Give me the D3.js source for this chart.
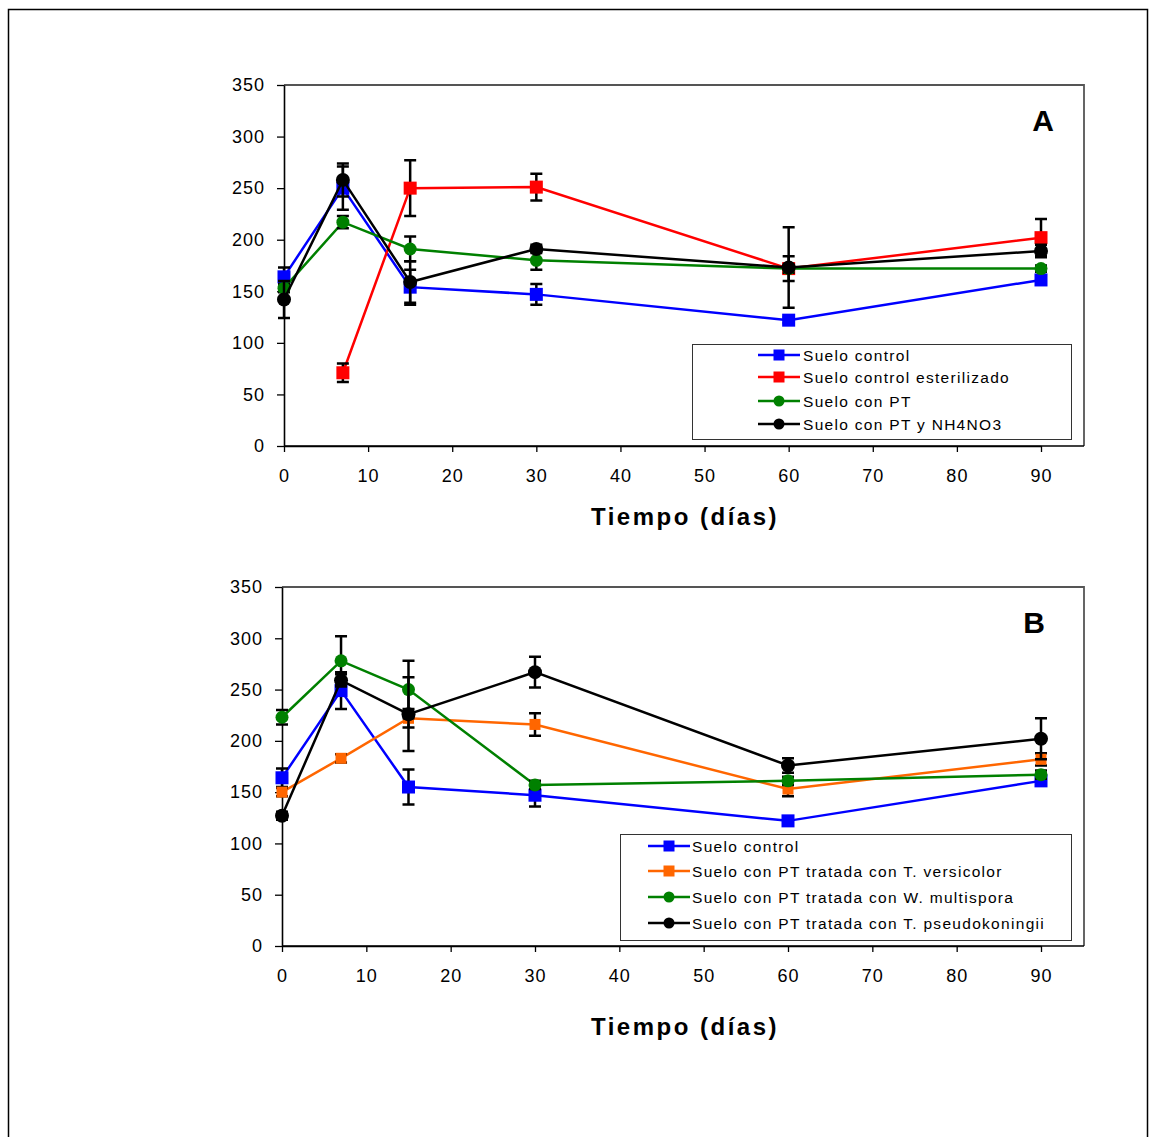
<!DOCTYPE html>
<html>
<head>
<meta charset="utf-8">
<script src="https://cdn.jsdelivr.net/npm/d3@7"></script>
<style>
  body { margin: 0; background: #fff; }
  svg { display: block; font-family: "Liberation Sans", Arial, sans-serif; }
</style>
</head>
<body>
<svg id="chart"></svg>
<script>
// sampling days (x axis)
const days = [0, 7, 15, 30, 60, 90];
const yTicks = [0, 50, 100, 150, 200, 250, 300, 350];
const xTicks = [0, 10, 20, 30, 40, 50, 60, 70, 80, 90];

// panel A
const aControl = [164, 250, 154, 147, 122, 161];
const aControlErr = [9, 21, 17, 10, 3, 4];
const aEsteril = [null, 71, 250, 251, 172, 202];
const aEsterilErr = [0, 9, 27, 13, 12, 18];
const aPT = [153, 217, 191, 180, 172, 172];
const aPTErr = [4, 6, 12, 9, 4, 3];
const aPTN = [142, 258, 159, 191, 173, 189];
const aPTNErr = [18, 16, 20, 4, 39, 6];

// panel B
const bControl = [164, 249, 155, 147, 122, 161];
const bControlErr = [9, 18, 17, 11, 3, 4];
const bVersicolor = [150, 183, 222, 216, 153, 182];
const bVersicolorErr = [4, 4, 9, 11, 7, 6];
const bMultispora = [223, 278, 250, 157, 161, 167];
const bMultisporaErr = [7, 24, 28, 4, 4, 4];
const bPseudo = [127, 259, 226, 267, 176, 202];
const bPseudoErr = [4, 6, 36, 15, 7, 20];

const labelsA = ["Suelo control", "Suelo control esterilizado", "Suelo con PT", "Suelo con PT y NH4NO3"];
const labelsB = ["Suelo control", "Suelo con PT tratada con T. versicolor",
  "Suelo con PT tratada con W. multispora", "Suelo con PT tratada con T. pseudokoningii"];

const W = 1149, H = 1137;
const svg = d3.select("#chart").attr("width", W).attr("height", H);

// outer frame
svg.append("rect")
  .attr("x", 8.5).attr("y", 9.5)
  .attr("width", 1139).attr("height", 1140)
  .attr("fill", "none").attr("stroke", "#000").attr("stroke-width", 1.5);

const panels = [
  {
    letter: "A", letterX: 1043, left: 284, top: 85, bottom: 446, right: 1084, titleY: 517,
    legend: { x: 692, y: 344, w: 379, h: 95, line0: 758, text: 803, rows: [355, 377, 401, 424] },
    series: [
      { label: labelsA[0], vals: aControl, err: aControlErr, color: "#0000ff", shape: "square", size: 13 },
      { label: labelsA[1], vals: aEsteril, err: aEsterilErr, color: "#ff0000", shape: "square", size: 13 },
      { label: labelsA[2], vals: aPT, err: aPTErr, color: "#008000", shape: "circle", size: 13 },
      { label: labelsA[3], vals: aPTN, err: aPTNErr, color: "#000000", shape: "circle", size: 14 }
    ]
  },
  {
    letter: "B", letterX: 1034, left: 282, top: 587, bottom: 946, right: 1084, titleY: 1027,
    legend: { x: 620, y: 834, w: 451, h: 106, line0: 648, text: 692, rows: [846, 871, 897, 923] },
    series: [
      { label: labelsB[0], vals: bControl, err: bControlErr, color: "#0000ff", shape: "square", size: 13 },
      { label: labelsB[1], vals: bVersicolor, err: bVersicolorErr, color: "#ff6600", shape: "square", size: 11 },
      { label: labelsB[2], vals: bMultispora, err: bMultisporaErr, color: "#008000", shape: "circle", size: 13 },
      { label: labelsB[3], vals: bPseudo, err: bPseudoErr, color: "#000000", shape: "circle", size: 14 }
    ]
  }
];

function drawMarker(g, shape, size, color, cx, cy) {
  if (shape === "square") {
    g.append("rect")
      .attr("x", cx - size / 2).attr("y", cy - size / 2)
      .attr("width", size).attr("height", size)
      .attr("fill", color);
  } else {
    g.append("circle")
      .attr("cx", cx).attr("cy", cy).attr("r", size / 2)
      .attr("fill", color);
  }
}

panels.forEach(p => {
  // x=90 sits at 1041, the box runs a bit further
  const x = d3.scaleLinear().domain([0, 90]).range([p.left, 1041]);
  const y = d3.scaleLinear().domain([0, 350]).range([p.bottom, p.top]);
  const g = svg.append("g");

  // top/right border of plot area
  g.append("path")
    .attr("d", `M${p.left},${p.top}H${p.right}V${p.bottom}`)
    .attr("fill", "none").attr("stroke", "#555").attr("stroke-width", 1.8);

  const yAxis = g.append("g")
    .attr("transform", `translate(${p.left},0)`)
    .call(d3.axisLeft(y).tickValues(yTicks).tickSize(7).tickPadding(12).tickSizeOuter(0));
  const xAxis = g.append("g")
    .attr("transform", `translate(0,${p.bottom})`)
    .call(d3.axisBottom(x).tickValues(xTicks).tickSize(6).tickPadding(17).tickSizeOuter(0));
  [yAxis, xAxis].forEach(a => {
    a.select(".domain").attr("stroke-width", 1.6);
    a.selectAll(".tick line").attr("stroke-width", 1.3);
    a.selectAll("text")
      .attr("font-size", 18).attr("fill", "#000")
      .style("letter-spacing", "1px")
      .style("font-family", "Liberation Sans, Arial, sans-serif");
  });
  // extend x domain line to the box edge
  g.append("line")
    .attr("x1", p.left).attr("x2", p.right)
    .attr("y1", p.bottom).attr("y2", p.bottom)
    .attr("stroke", "#000").attr("stroke-width", 1.6);

  // series
  p.series.forEach(s => {
    const pts = days.map((d, i) => ({ d, v: s.vals[i], e: s.err[i] })).filter(o => o.v != null);
    const sg = g.append("g");
    sg.append("path")
      .datum(pts)
      .attr("d", d3.line().x(o => x(o.d)).y(o => y(o.v)))
      .attr("fill", "none").attr("stroke", s.color).attr("stroke-width", 2.5);
    pts.forEach(o => {
      const cx = x(o.d), y1 = y(o.v - o.e), y2 = y(o.v + o.e);
      sg.append("path")
        .attr("d", `M${cx},${y1}V${y2}M${cx - 6},${y1}H${cx + 6}M${cx - 6},${y2}H${cx + 6}`)
        .attr("fill", "none").attr("stroke", "#000").attr("stroke-width", 2.5);
    });
    pts.forEach(o => drawMarker(sg, s.shape, s.size, s.color, x(o.d), y(o.v)));
  });

  // panel letter
  g.append("text")
    .attr("x", p.letterX).attr("y", p.top + 46)
    .attr("text-anchor", "middle")
    .attr("font-size", 30).attr("font-weight", "bold")
    .text(p.letter);

  // x title
  g.append("text")
    .attr("x", 685).attr("y", p.titleY + 8)
    .attr("text-anchor", "middle")
    .attr("font-size", 24).attr("font-weight", "bold")
    .style("letter-spacing", "2.5px")
    .text("Tiempo (días)");

  // legend
  const L = p.legend;
  const lg = g.append("g");
  lg.append("rect")
    .attr("x", L.x + 0.5).attr("y", L.y + 0.5)
    .attr("width", L.w).attr("height", L.h)
    .attr("fill", "#fff").attr("stroke", "#333").attr("stroke-width", 1);
  p.series.forEach((s, i) => {
    const ry = L.rows[i];
    lg.append("line")
      .attr("x1", L.line0).attr("x2", L.line0 + 42)
      .attr("y1", ry).attr("y2", ry)
      .attr("stroke", s.color).attr("stroke-width", 2.5);
    drawMarker(lg, s.shape, 11, s.color, L.line0 + 21, ry);
    lg.append("text")
      .attr("x", L.text).attr("y", ry + 5.5)
      .attr("font-size", 15.5)
      .style("letter-spacing", "1.3px")
      .text(s.label);
  });
});
</script>
</body>
</html>
